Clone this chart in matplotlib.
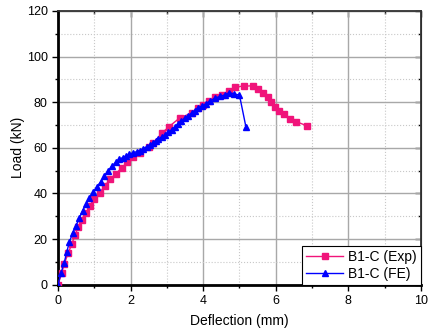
import matplotlib.pyplot as plt
from matplotlib.ticker import MultipleLocator

plt.rcParams['font.family'] = ['Liberation Sans', 'DejaVu Sans']

# Experimental load-deflection curve
exp_defl = [0.00, 0.10, 0.17, 0.28, 0.38, 0.47, 0.56, 0.67, 0.78, 0.88, 1.00,
            1.15, 1.29, 1.43, 1.59, 1.75, 1.91, 2.07, 2.26, 2.51, 2.63, 2.86,
            3.06, 3.36, 3.68, 3.85, 4.00, 4.17, 4.33, 4.51, 4.72, 4.89, 5.13,
            5.36, 5.50, 5.64, 5.78, 5.87, 5.98, 6.10, 6.24, 6.40, 6.56, 6.87]
exp_load = [0.0, 5.0, 9.1, 13.8, 17.9, 21.8, 25.4, 28.5, 31.3, 34.5, 37.5,
            40.4, 43.3, 46.2, 48.6, 51.1, 53.7, 56.1, 57.9, 60.5, 62.3, 66.4,
            69.3, 73.2, 75.2, 77.4, 78.8, 80.5, 82.2, 83.2, 85.1, 86.8, 87.0,
            87.2, 85.7, 83.9, 82.2, 80.0, 77.8, 76.2, 74.7, 72.7, 71.5, 69.6]

# Finite element prediction
fe_defl = [0.00, 0.08, 0.17, 0.24, 0.31, 0.40, 0.50, 0.59, 0.68, 0.77, 0.86,
           0.97, 1.07, 1.18, 1.28, 1.38, 1.48, 1.60, 1.69, 1.78, 1.87, 1.97,
           2.07, 2.17, 2.26, 2.35, 2.44, 2.53, 2.61, 2.69, 2.76, 2.86, 2.95,
           3.04, 3.13, 3.22, 3.31, 3.40, 3.50, 3.59, 3.68, 3.77, 3.86, 3.97,
           4.08, 4.19, 4.33, 4.46, 4.60, 4.72, 4.86, 5.00, 5.18]
fe_load = [0.0, 5.0, 9.6, 14.2, 18.6, 22.5, 25.9, 29.4, 32.5, 35.3, 37.9,
           40.5, 42.9, 45.2, 47.7, 49.9, 51.9, 53.8, 55.0, 55.7, 56.4, 57.1,
           57.9, 58.3, 58.8, 59.6, 60.5, 61.2, 62.0, 62.9, 63.8, 64.8, 65.7,
           66.8, 67.9, 69.2, 70.5, 71.7, 73.0, 74.1, 75.2, 76.3, 77.4, 78.4,
           79.3, 80.6, 81.8, 82.5, 83.2, 84.2, 83.6, 83.1, 69.0]

fig = plt.figure(figsize=(4.28, 3.30), dpi=100)
ax = fig.add_axes([0.1355, 0.137, 0.848, 0.830])

ax.plot(exp_defl, exp_load, color='#f0147a', lw=1.0, marker='s', ms=4.3,
        label='B1-C (Exp)', zorder=3)
ax.plot(fe_defl, fe_load, color='#0000ff', lw=1.0, marker='^', ms=4.5,
        label='B1-C (FE)', zorder=4)

ax.set_xlim(0, 10)
ax.set_ylim(0, 120)
ax.xaxis.set_major_locator(MultipleLocator(2))
ax.xaxis.set_minor_locator(MultipleLocator(1))
ax.yaxis.set_major_locator(MultipleLocator(20))
ax.yaxis.set_minor_locator(MultipleLocator(10))

ax.grid(which='major', color='#a8a8a8', lw=1.0, ls='-')
ax.grid(which='minor', color='#c8c8c8', lw=0.8, ls=':')
ax.set_axisbelow(True)

for side in ['left', 'bottom']:
    ax.spines[side].set_linewidth(2.0)
for side in ['top', 'right']:
    ax.spines[side].set_linewidth(1.3)
    ax.spines[side].set_color('#333333')

ax.tick_params(which='both', direction='out', labelsize=9, width=1.0)
ax.tick_params(which='major', length=4)
ax.tick_params(which='minor', length=2.5)

# inward ticks on the top and right spines
top = ax.secondary_xaxis('top')
top.set_xticks(range(0, 11, 2))
top.xaxis.set_minor_locator(MultipleLocator(1))
top.tick_params(which='both', direction='in', labeltop=False, width=1.0)
top.tick_params(which='major', length=4)
top.tick_params(which='minor', length=2.5)
right = ax.secondary_yaxis('right')
right.set_yticks(range(0, 121, 20))
right.yaxis.set_minor_locator(MultipleLocator(10))
right.tick_params(which='both', direction='in', labelright=False, width=1.0)
right.tick_params(which='major', length=4)
right.tick_params(which='minor', length=2.5)

ax.set_xlabel('Deflection (mm)', fontsize=10, labelpad=5)
ax.set_ylabel('Load (kN)', fontsize=10, labelpad=1)

leg = ax.legend(loc='lower right', fontsize=10, frameon=True, fancybox=False,
                borderaxespad=0, handlelength=2.6, borderpad=0.3,
                labelspacing=0.2, handletextpad=0.4)
leg.get_frame().set_edgecolor('black')
leg.get_frame().set_linewidth(0.8)
leg.get_frame().set_alpha(1)

fig.savefig('out.png', dpi=100)
